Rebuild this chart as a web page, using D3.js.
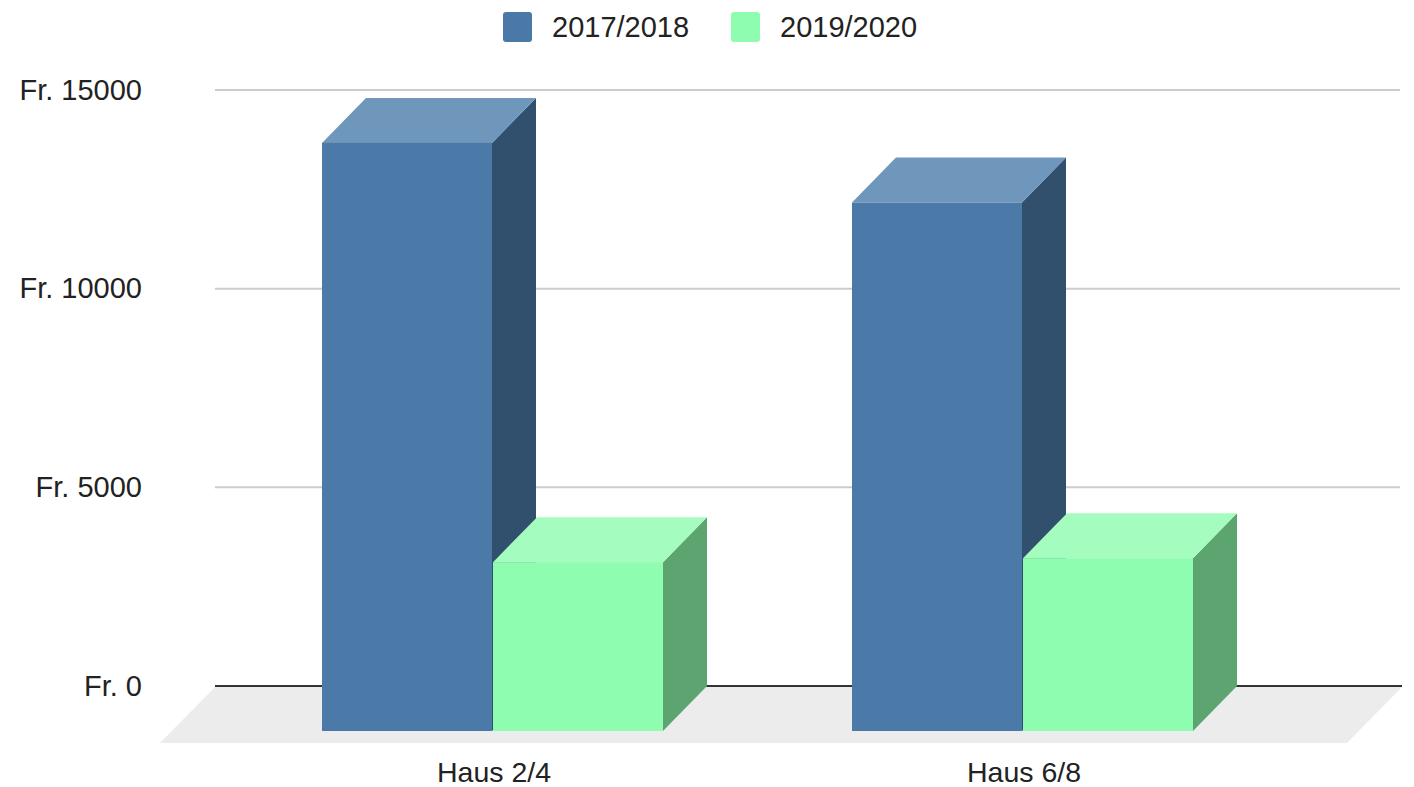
<!DOCTYPE html>
<html>
<head>
<meta charset="utf-8">
<script src="https://cdn.jsdelivr.net/npm/d3@7"></script>
<style>
  html, body { margin: 0; padding: 0; background: #fff; }
  svg { display: block; font-family: "Liberation Sans", Arial, sans-serif; }
</style>
</head>
<body>
<svg id="chart" width="1414" height="787"></svg>
<script>
// ---- data ----
const categories = ["Haus 2/4", "Haus 6/8"];
const seriesNames = ["2017/2018", "2019/2020"];
const values2017 = [14800, 13300];
const values2019 = [4250, 4350];
const yTicks = [0, 5000, 10000, 15000];
const yTickLabels = ["Fr. 0", "Fr. 5000", "Fr. 10000", "Fr. 15000"];

const seriesValues = [values2017, values2019];
const colors = [
  { front: "#4b7aa9", top: "#6f96bb", side: "#31506e", legend: "#4a79a8" },
  { front: "#8efdb0", top: "#a4fcbf", side: "#5ca571", legend: "#8efdb0" }
];

const svg = d3.select("#chart");
const DX = 44, DY = 45;        // depth offset of the 3D bars
const FX = 55, FY = 57;        // floor depth
const backLeft = 215, backRight = 1402;

const y = d3.scaleLinear().domain([0, 15000]).range([686, 90]);

// category band in front plane
const x0 = d3.scaleBand().domain(categories).range([229, 1289]).paddingInner(0).paddingOuter(0);
const x1 = d3.scaleBand().domain(seriesNames).range([x0.bandwidth() / 2 - 172, x0.bandwidth() / 2 + 170]).paddingInner(0);

// floor
svg.append("polygon")
  .attr("points", [[backLeft, y(0) + 1], [backRight, y(0) + 1], [backRight - FX, y(0) + FY], [backLeft - FX, y(0) + FY]].map(p => p.join(",")).join(" "))
  .attr("fill", "#ececec");

// grid lines
svg.append("g").selectAll("line")
  .data(yTicks.filter(t => t !== 0))
  .join("line")
  .attr("x1", backLeft).attr("x2", backRight - 2)
  .attr("y1", d => y(d)).attr("y2", d => y(d))
  .attr("stroke", "#cccccc").attr("stroke-width", 2);

// zero line
svg.append("line")
  .attr("x1", backLeft).attr("x2", backRight)
  .attr("y1", y(0)).attr("y2", y(0))
  .attr("stroke", "#333").attr("stroke-width", 2);

// y labels
svg.append("g").selectAll("text")
  .data(yTicks)
  .join("text")
  .attr("x", 142)
  .attr("y", d => y(d))
  .attr("dy", "0.33em")
  .attr("text-anchor", "end")
  .attr("font-size", 29)
  .attr("fill", "#222")
  .text((d, i) => yTickLabels[i]);

// bars
const barsG = svg.append("g");
categories.forEach((cat, ci) => {
  seriesNames.forEach((s, si) => {
    const v = seriesValues[si][ci];
    const xl = x0(cat) + x1(s);
    const xr = xl + x1.bandwidth() - 1;
    const yt = y(v) + DY;
    const yb = y(0) + DY;
    const c = colors[si];
    const g = barsG.append("g");
    // side face
    g.append("polygon")
      .attr("points", [[xr, yt], [xr + DX, yt - DY], [xr + DX, yb - DY], [xr, yb]].map(p => p.join(",")).join(" "))
      .attr("fill", c.side);
    // top face
    g.append("polygon")
      .attr("points", [[xl, yt], [xr, yt], [xr + DX, yt - DY], [xl + DX, yt - DY]].map(p => p.join(",")).join(" "))
      .attr("fill", c.top);
    // front face
    g.append("rect")
      .attr("x", xl).attr("y", yt)
      .attr("width", xr - xl).attr("height", yb - yt)
      .attr("fill", c.front);
  });
});

// x labels
svg.append("g").selectAll("text")
  .data(categories)
  .join("text")
  .attr("x", d => x0(d) + x0.bandwidth() / 2)
  .attr("y", 782)
  .attr("text-anchor", "middle")
  .attr("font-size", 28.5)
  .attr("fill", "#222")
  .text(d => d);

// legend
const legendX = [503, 731];
const lg = svg.append("g");
seriesNames.forEach((s, i) => {
  lg.append("rect")
    .attr("x", legendX[i]).attr("y", 12)
    .attr("width", 29).attr("height", 30)
    .attr("rx", 3)
    .attr("fill", colors[i].legend);
  lg.append("text")
    .attr("x", legendX[i] + 49).attr("y", 37)
    .attr("font-size", 29)
    .attr("fill", "#222")
    .text(s);
});
</script>
</body>
</html>
